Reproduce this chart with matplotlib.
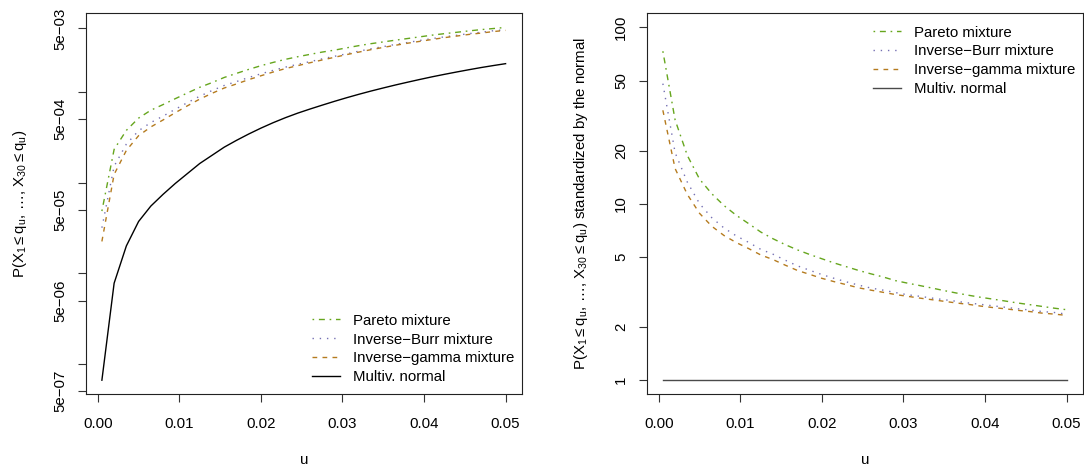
import numpy as np
import matplotlib
matplotlib.use("Agg")
import matplotlib.pyplot as plt
from matplotlib.ticker import FixedLocator, FixedFormatter, NullLocator

# Threshold levels u
u = [0.0005, 0.002, 0.0035, 0.005, 0.0065, 0.008, 0.0095, 0.011, 0.0125, 0.014,
     0.0155, 0.017, 0.0185, 0.02, 0.0215, 0.023, 0.0245, 0.026, 0.0275, 0.029,
     0.0305, 0.032, 0.0335, 0.035, 0.0365, 0.038, 0.0395, 0.041, 0.0425, 0.044,
     0.0455, 0.047, 0.0485, 0.05]

# P(X_1 <= q_u, ..., X_30 <= q_u) under the multivariate normal
normal_prob = [6.61e-7, 7.76e-6, 2.00e-5, 3.72e-5, 5.50e-5, 7.41e-5, 9.77e-5,
               1.259e-4, 1.622e-4, 1.995e-4, 2.455e-4, 2.917e-4, 3.428e-4,
               3.981e-4, 4.571e-4, 5.188e-4, 5.821e-4, 6.457e-4, 7.129e-4,
               7.852e-4, 8.610e-4, 9.397e-4, 1.021e-3, 1.104e-3, 1.191e-3,
               1.279e-3, 1.371e-3, 1.466e-3, 1.560e-3, 1.656e-3, 1.754e-3,
               1.854e-3, 1.950e-3, 2.046e-3]

# Mixture probabilities standardized by the normal one
pareto_rel = [73.3, 29.9, 18.8, 13.8, 11.4, 9.77, 8.61, 7.73, 6.92, 6.34, 5.87,
              5.48, 5.16, 4.88, 4.62, 4.40, 4.19, 4.01, 3.85, 3.67, 3.55, 3.44,
              3.33, 3.22, 3.12, 3.03, 2.95, 2.88, 2.81, 2.74, 2.68, 2.62, 2.56,
              2.51]
invburr_rel = [48.0, 19.5, 13.27, 10.02, 8.34, 7.29, 6.58, 6.05, 5.52, 5.18,
               4.79, 4.45, 4.20, 3.97, 3.78, 3.61, 3.46, 3.33, 3.24, 3.14, 3.05,
               2.99, 2.92, 2.86, 2.80, 2.74, 2.69, 2.64, 2.59, 2.54, 2.50, 2.45,
               2.42, 2.37]
invgamma_rel = [33.9, 15.85, 11.30, 8.83, 7.46, 6.61, 6.03, 5.58, 5.13, 4.83,
                4.49, 4.19, 3.98, 3.78, 3.62, 3.48, 3.34, 3.24, 3.15, 3.06, 2.99,
                2.92, 2.86, 2.80, 2.74, 2.69, 2.63, 2.58, 2.54, 2.49, 2.45, 2.40,
                2.37, 2.33]

series_labels = ["Pareto mixture", "Inverse\u2212Burr mixture",
                 "Inverse\u2212gamma mixture", "Multiv. normal"]
x_ticks = [0.00, 0.01, 0.02, 0.03, 0.04, 0.05]
x_tick_labels = ["0.00", "0.01", "0.02", "0.03", "0.04", "0.05"]
left_ticks = [5e-7, 1e-6, 5e-6, 1e-5, 5e-5, 1e-4, 5e-4, 1e-3, 5e-3]
left_tick_labels = ["5e\u221207", "", "5e\u221206", "", "5e\u221205", "",
                    "5e\u221204", "", "5e\u221203"]
right_ticks = [1, 2, 5, 10, 20, 50, 100]
right_tick_labels = ["1", "2", "5", "10", "20", "50", "100"]

plt.rcParams.update({
    "font.family": ["Liberation Sans", "DejaVu Sans"],
    "font.size": 10.8,
    "mathtext.fontset": "custom",
    "mathtext.rm": "Liberation Sans",
    "mathtext.it": "Liberation Sans",
    "mathtext.default": "regular",
    "lines.scale_dashes": False,
    "axes.linewidth": 0.8,
})

colors = ["#66A61E", "#7570B3", "#B57B1F"]
styles = [(0, (1.2, 3.4, 4.3, 3.4)), (0, (1.0, 4.2)), (0, (3.4, 3.8))]
lw = 1.0

uu = np.array(u)
norm = np.array(normal_prob)
rels = [np.array(pareto_rel), np.array(invburr_rel), np.array(invgamma_rel)]
mix_probs = [r * norm for r in rels]

fig = plt.figure(figsize=(10.84, 4.72), dpi=100)
ax1 = fig.add_axes([0.0791, 0.1646, 0.4022, 0.8072])
ax2 = fig.add_axes([0.5966, 0.1646, 0.4022, 0.8072])

ylab = r"$P(X_1 \leq q_u,\, \ldots,\, X_{30} \leq q_u)$"
legend_kw = dict(frameon=False, handlelength=1.85, handletextpad=0.9,
                 labelspacing=0.33, borderpad=0, borderaxespad=0,
                 fontsize=10.8)

# x range with the usual 4% padding
xpad = 0.04 * (max(u) - min(u))
xlim = (min(u) - xpad, max(u) + xpad)

# Left: joint probabilities on a log scale
for p, c, s, lab in zip(mix_probs, colors, styles, series_labels[:3]):
    ax1.plot(uu, p, color=c, linestyle=s, lw=lw, label=lab)
ax1.plot(uu, norm, color="black", lw=lw, label=series_labels[3])
ax1.set_yscale("log")
lo = np.log10(min(norm.min(), min(p.min() for p in mix_probs)))
hi = np.log10(max(norm.max(), max(p.max() for p in mix_probs)))
ypad = 0.04 * (hi - lo)
ax1.set_ylim(10 ** (lo - ypad), 10 ** (hi + ypad))
ax1.yaxis.set_major_locator(FixedLocator(left_ticks))
ax1.yaxis.set_major_formatter(FixedFormatter(left_tick_labels))
ax1.yaxis.set_minor_locator(NullLocator())
ax1.set_ylabel(ylab, fontsize=10.8)
ax1.legend(loc="lower right", bbox_to_anchor=(0.984, 0.026), **legend_kw)

# Right: probabilities divided by the normal probability
for r, c, s, lab in zip(rels, colors, styles, series_labels[:3]):
    ax2.plot(uu, r, color=c, linestyle=s, lw=lw, label=lab)
ax2.plot(uu, norm / norm, color="#4a4a4a", lw=1.0, label=series_labels[3])
ax2.set_yscale("log")
ax2.set_ylim(10 ** -0.08, 10 ** 2.08)
ax2.yaxis.set_major_locator(FixedLocator(right_ticks))
ax2.yaxis.set_major_formatter(FixedFormatter(right_tick_labels))
ax2.yaxis.set_minor_locator(NullLocator())
ax2.set_ylabel(ylab[:-1] + r"$ standardized by the normal", fontsize=10.8)
ax2.legend(loc="upper right", bbox_to_anchor=(0.984, 0.968), **legend_kw)

for ax in (ax1, ax2):
    ax.set_xlim(*xlim)
    ax.set_xticks(x_ticks)
    ax.set_xticklabels(x_tick_labels)
    ax.tick_params(axis="both", direction="out", length=6.0, width=0.8,
                   labelsize=10.8, color="#333333")
    ax.tick_params(axis="x", pad=10.5)
    ax.tick_params(axis="y", pad=7.5)
    for t in ax.get_yticklabels():
        t.set_rotation(90)
        t.set_va("center")
        t.set_ha("right")
    ax.set_xlabel("u", fontsize=10.8, va="center")
    ax.xaxis.set_label_coords(0.5, -0.172)
    ax.yaxis.set_label_coords(-0.151, 0.5)
    ax.yaxis.label.set_va("center")
    for sp in ax.spines.values():
        sp.set_color("#222222")

fig.savefig("out.png", dpi=100)
